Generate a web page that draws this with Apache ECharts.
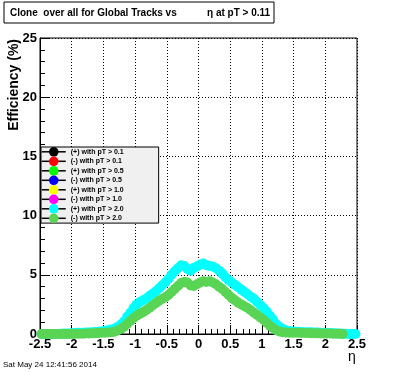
<!DOCTYPE html>
<html>
<head>
<meta charset="utf-8">
<script src="https://cdn.jsdelivr.net/npm/echarts@6/dist/echarts.min.js"></script>
<style>
html,body{margin:0;padding:0;background:#fff;}
#c{width:396px;height:372px;}
</style>
</head>
<body>
<div id="c"></div>
<script>
// eta bin centres (bin width 0.05)
var eta = [-2.475,-2.425,-2.375,-2.325,-2.275,-2.225,-2.175,-2.125,-2.075,-2.025,
           -1.975,-1.925,-1.875,-1.825,-1.775,-1.725,-1.675,-1.625,-1.575,-1.525,
           -1.475,-1.425,-1.375,-1.325,-1.275,-1.225,-1.175,-1.125,-1.075,-1.025,
           -0.975,-0.925,-0.875,-0.825,-0.775,-0.725,-0.675,-0.625,-0.575,-0.525,
           -0.475,-0.425,-0.375,-0.325,-0.275,-0.225,-0.175,-0.125,-0.075,-0.025,
           0.025,0.075,0.125,0.175,0.225,0.275,0.325,0.375,0.425,0.475,
           0.525,0.575,0.625,0.675,0.725,0.775,0.825,0.875,0.925,0.975,
           1.025,1.075,1.125,1.175,1.225,1.275,1.325,1.375,1.425,1.475,
           1.525,1.575,1.625,1.675,1.725,1.775,1.825,1.875,1.925,1.975,
           2.025,2.075,2.125,2.175,2.225,2.275,2.325,2.375,2.425,2.475];
// (+) with pT > 2.0  (cyan)
var plusPt20 = [0.0,0.0,0.0,0.0,0.0,0.0,0.03,0.05,0.05,0.05,
                0.08,0.1,0.1,0.1,0.12,0.12,0.15,0.17,0.2,0.22,
                0.28,0.32,0.38,0.45,0.6,0.8,1.05,1.45,1.8,2.2,
                2.5,2.7,2.85,3.0,3.2,3.4,3.6,3.85,4.1,4.35,
                4.65,5.0,5.3,5.55,5.8,5.75,5.5,5.35,5.6,5.7,
                5.85,5.95,5.8,5.75,5.7,5.55,5.35,5.1,4.8,4.55,
                4.35,4.15,3.95,3.75,3.55,3.35,3.15,2.95,2.7,2.45,
                2.2,1.9,1.55,1.2,0.85,0.6,0.42,0.32,0.25,0.22,
                0.2,0.18,0.17,0.15,0.15,0.14,0.13,0.12,0.1,0.1,
                0.08,0.08,0.06,0.05,0.05,0.03,0.02,0.0,0.0,0.0];
// (-) with pT > 2.0  (light green)
var minusPt20 = [0.0,0.0,0.0,0.0,0.0,0.0,0.0,0.0,0.0,0.0,
                 0.0,0.02,0.03,0.03,0.05,0.05,0.06,0.07,0.08,0.1,
                 0.1,0.12,0.15,0.2,0.3,0.42,0.6,0.85,1.1,1.35,
                 1.55,1.7,1.85,2.0,2.2,2.4,2.6,2.8,2.95,3.1,
                 3.3,3.55,3.8,4.05,4.3,4.4,4.35,4.1,4.05,4.2,
                 4.35,4.45,4.4,4.45,4.35,4.2,4.0,3.8,3.55,3.3,
                 3.05,2.85,2.65,2.5,2.35,2.2,2.0,1.8,1.6,1.4,
                 1.2,0.95,0.7,0.5,0.32,0.22,0.15,0.12,0.1,0.1,
                 0.1,0.1,0.08,0.08,0.08,0.07,0.07,0.06,0.05,0.05,
                 0.05,0.04,0.03,0.02,0.02,0.0,null,null,null,null];
// series hidden underneath (not readable)
var emptySeries = [];
var seriesNames = ['(+) with pT > 0.1','(-) with pT > 0.1','(+) with pT > 0.5','(-) with pT > 0.5','(+) with pT > 1.0','(-) with pT > 1.0','(+) with pT > 2.0','(-) with pT > 2.0'];
var seriesColors = ['#000000','#ff0000','#00ff00','#0000ff','#ffff00','#ff00ff','#00ffff','#59d454'];
var seriesValues = [emptySeries,emptySeries,emptySeries,emptySeries,emptySeries,emptySeries,plusPt20,minusPt20];
var xTickValues = [-2.5,-2,-1.5,-1,-0.5,0,0.5,1,1.5,2,2.5];
var yTickValues = [0,5,10,15,20,25];

function pairs(vals){
  var out = [];
  for (var i = 0; i < vals.length; i++) {
    if (vals[i] !== null && vals[i] !== undefined) out.push([eta[i], vals[i]]);
  }
  return out;
}

var FONT = 'Liberation Sans, Arial, Helvetica, sans-serif';
var chart = echarts.init(document.getElementById('c'), null, {renderer:'canvas'});

var series = seriesNames.map(function(n, k){
  return {
    name: n,
    type: 'line',
    data: pairs(seriesValues[k]),
    symbol: 'circle',
    symbolSize: 10,
    showSymbol: true,
    lineStyle: {width: 0, opacity: 0},
    itemStyle: {color: seriesColors[k]},
    silent: true,
    animation: false,
    emphasis: {disabled: true}
  };
});

var axisCommon = {
  axisLine: {show: true, onZero: false, lineStyle: {color: '#000', width: 1}},
  axisTick: {show: true, inside: true, length: 9, lineStyle: {color: '#000', width: 1}},
  minorTick: {show: true, splitNumber: 5, length: 5, lineStyle: {color: '#000', width: 1}},
  splitLine: {show: true, lineStyle: {color: '#000', width: 1, type: [1, 2]}},
  minorSplitLine: {show: false}
};

chart.setOption({
  animation: false,
  backgroundColor: '#ffffff',
  grid: {left: 40, right: 39, top: 38, bottom: 38, show: true, borderColor: '#000', borderWidth: 1, backgroundColor: 'transparent'},
  xAxis: Object.assign({
    type: 'value', min: xTickValues[0], max: xTickValues[xTickValues.length-1], interval: 0.5,
    axisLabel: {color: '#000', fontSize: 13, fontWeight: 'bold', fontFamily: FONT, margin: 4, showMinLabel: true, showMaxLabel: true}
  }, axisCommon),
  yAxis: Object.assign({
    type: 'value', min: yTickValues[0], max: yTickValues[yTickValues.length-1], interval: 5,
    axisLabel: {color: '#000', fontSize: 13, fontWeight: 'bold', fontFamily: FONT, margin: 3, showMinLabel: true, showMaxLabel: true}
  }, axisCommon),
  legend: {
    data: seriesNames,
    orient: 'vertical',
    left: 41, top: 147,
    padding: [0, 35, 0, 0],
    itemWidth: 24, itemHeight: 12, itemGap: -0.1,
    selectedMode: false,
    backgroundColor: '#f0f0f0',
    borderColor: '#000', borderWidth: 1,
    lineStyle: {color: '#000', width: 1.5, opacity: 1, type: 'solid'},
    textStyle: {color: '#000', fontSize: 7, fontWeight: 'bold', fontFamily: FONT, padding: [0,0,0,0]}
  },
  graphic: [
    {type: 'rect', shape: {x: 4, y: 2, width: 270, height: 21}, style: {fill: '#fff', stroke: '#000', lineWidth: 1}, silent: true},
    {type: 'text', x: 10, y: 13, style: {text: 'Clone  over all for Global Tracks vs', fill: '#000', font: 'bold 10px ' + FONT, textVerticalAlign: 'middle'}, silent: true},
    {type: 'text', x: 207, y: 13, style: {text: '\u03b7 at pT > 0.11', fill: '#000', font: 'bold 10px ' + FONT, textVerticalAlign: 'middle'}, silent: true},
    {type: 'text', x: 14, y: 39, rotation: Math.PI/2, style: {text: 'Efficiency (%)', fill: '#000', font: 'bold 14px ' + FONT, textAlign: 'right', textVerticalAlign: 'middle'}, silent: true},
    {type: 'text', x: 352, y: 357, style: {text: '\u03b7', fill: '#000', font: '14px ' + FONT, textAlign: 'center', textVerticalAlign: 'middle'}, silent: true},
    {type: 'text', x: 3, y: 365, style: {text: 'Sat May 24 12:41:56 2014', fill: '#000', font: '8px ' + FONT, textVerticalAlign: 'middle'}, silent: true}
  ],
  series: series
});
</script>
</body>
</html>
